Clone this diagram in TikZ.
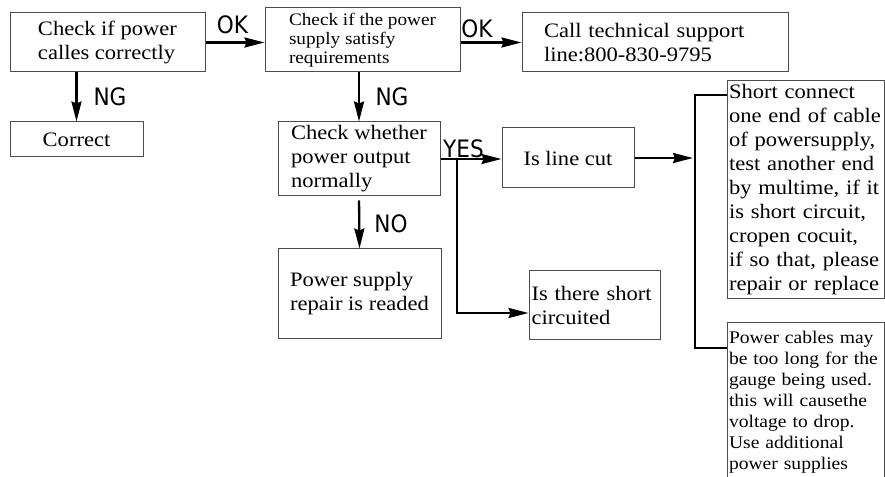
\documentclass[tikz,border=0pt]{standalone}
\usepackage{fontspec}
\setmainfont{Liberation Serif}[FakeStretch=1.1]
\newfontfamily\tagfont{DejaVu Sans Condensed}
\usetikzlibrary{arrows.meta}

\begin{document}
\begin{tikzpicture}[
x=1pt, y=1pt,
font=\fontsize{20.5}{24}\selectfont,
check/.style={draw=black!70, line width=1pt, align=left, inner sep=2pt},
note/.style={check, anchor=north west, text width=154pt, inner sep=1.5pt},
tag/.style={font=\tagfont\fontsize{24}{24}\selectfont, inner sep=0pt},
arrow/.style={-{Stealth[length=20pt,width=10pt,inset=2pt]}, line width=2.3pt}
]
\useasboundingbox (0,0) rectangle (885,476);

\node[check, minimum width=195pt, minimum height=59pt] (power) at (107.5,433.5) {Check if power\\calles correctly};
\node[check, minimum width=195pt, minimum height=64pt, font=\fontsize{17.5}{19}\selectfont] (supply) at (362.5,436) {Check if the power\\supply satisfy\\requirements};
\node[check, minimum width=266pt, minimum height=59pt, text width=222pt] (support) at (655,433.5) {Call technical support\\line:800-830-9795};
\node[check, minimum width=133pt, minimum height=35pt, align=center] (correct) at (76.5,336.5) {Correct};
\node[check, minimum width=162pt, minimum height=74pt] (output) at (359,317) {Check whether\\power output\\normally};
\node[check, minimum width=163pt, minimum height=90pt] (repair) at (359.5,182) {Power supply\\repair is readed};
\node[check, minimum width=132pt, minimum height=60pt] (cut) at (568,318) {Is line cut};
\node[check, minimum width=131pt, minimum height=69pt, text width=126pt] (short) at (594.5,170.5) {Is there short\\circuited};

\node[note, minimum height=218pt] (cable) at (727,396) {Short connect\\one end of cable\\of powersupply,\\test another end\\by multime, if it\\is short circuit,\\cropen cocuit,\\if so that, please\\repair or replace};
\node[note, minimum height=160pt, font=\fontsize{17.8}{21}\selectfont] (long) at (727,154) {Power cables may\\be too long for the\\gauge being used.\\this will causethe\\voltage to drop.\\Use additional\\power supplies};

% labels on the arrows
\node[tag] (ok1) at (232.5,451) {OK};
\node[tag] (ok2) at (477,447) {OK};
\node[tag] (ng1) at (110,379) {NG};
\node[tag] (ng2) at (392,379) {NG};
\node[tag] (yes) at (463.5,327) {YES};
\node[tag] (no) at (391,252.5) {NO};

\draw[arrow] (power.east) -- (power.east -| supply.west);
\draw[arrow] (supply.east |- support.west) -- (support.west);
\draw[arrow] (correct.north |- power.south) -- (correct.north);
\draw[arrow] (output.north |- supply.south) -- (output.north);
\draw[arrow, shorten <=4pt] (output.south) -- (repair.north);
\draw[arrow] (output.east) -- (output.east -| cut.west);

\coordinate (split) at (457,317);
\coordinate (bend) at (457,163);
\draw[arrow] (split) -- (bend) -- (bend -| short.west);

\coordinate (fork) at (693,318);
\coordinate (top) at (695,381);
\coordinate (low) at (695,128);
\draw[arrow] (cut.east) -- (fork);
\draw[line width=2.3pt] (cable.west |- top) -- (top) -- (low) -- (long.west |- low);
\end{tikzpicture}
\end{document}
